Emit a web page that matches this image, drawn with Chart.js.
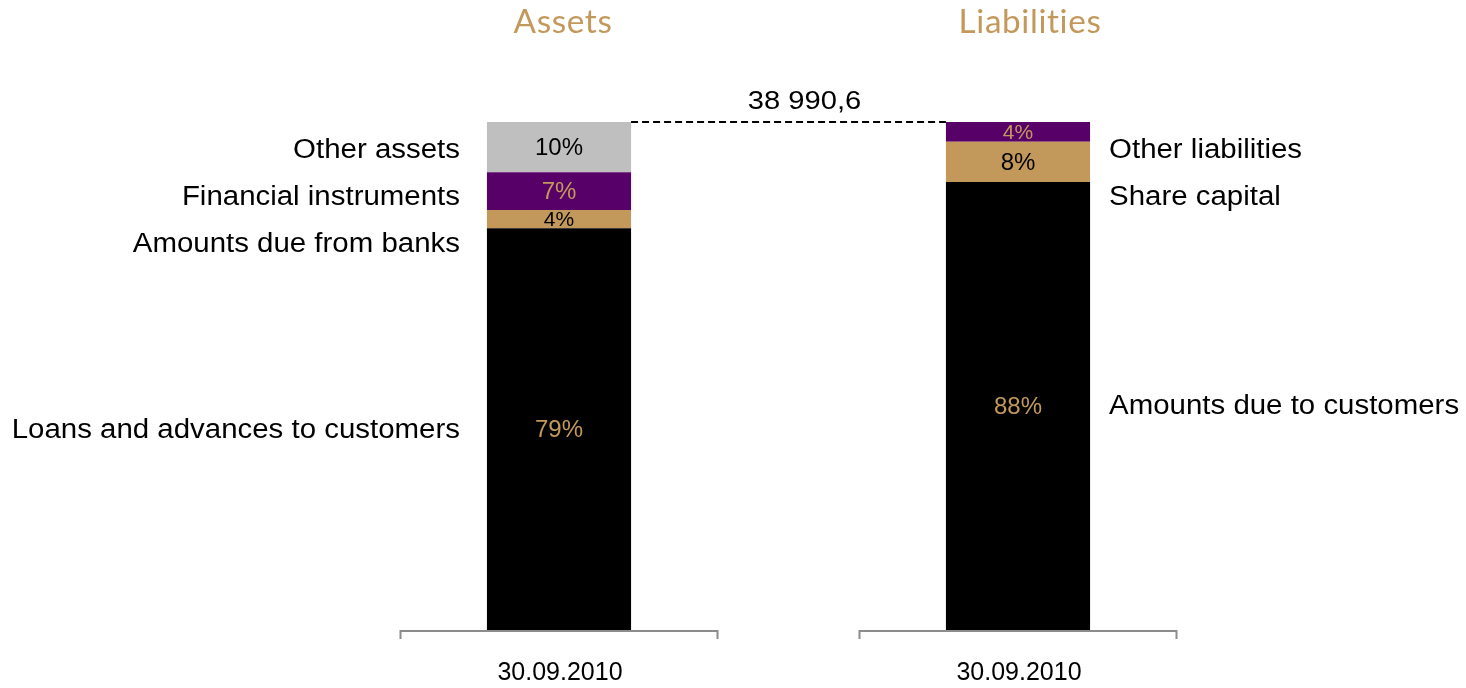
<!DOCTYPE html>
<html>
<head>
<meta charset="utf-8">
<script src="https://cdn.jsdelivr.net/npm/chart.js@4.4.0/dist/chart.umd.min.js"></script>
<style>
  html, body { margin: 0; padding: 0; background: #fff; }
  #wrap { width: 1466px; height: 688px; position: relative; }
</style>
</head>
<body>
<div id="wrap"><canvas id="bs"></canvas></div>
<script>
// balance sheet structure, shares in % (bottom to top)
const panelTitles = ["Assets", "Liabilities"];
const dateLabels = ["30.09.2010", "30.09.2010"];
const totalLabel = "38 990,6";

const assetNames = ["Loans and advances to customers", "Amounts due from banks", "Financial instruments", "Other assets"];
const assetShares = [79.1, 3.6, 7.4, 9.9];

const liabilityNames = ["Amounts due to customers", "Share capital", "Other liabilities"];
const liabilityShares = [88.2, 7.9, 3.9];

const GOLD = "#c3995b";
const PURPLE = "#560068";
const GREY = "#bfbfbf";
const BLACK = "#000000";

const assetColors = [BLACK, GOLD, PURPLE, GREY];
const liabilityColors = [BLACK, GOLD, PURPLE];
// text colour on top of each fill
const textOn = { [BLACK]: GOLD, [GOLD]: BLACK, [PURPLE]: GOLD, [GREY]: BLACK };

const levels = Math.max(assetShares.length, liabilityShares.length);
const datasets = [];
for (let i = 0; i < levels; i++) {
  datasets.push({
    label: "level " + i,
    data: [assetShares[i] ?? null, liabilityShares[i] ?? null],
    backgroundColor: [assetColors[i] || GREY, liabilityColors[i] || GREY],
    borderWidth: 0,
    barPercentage: 0.314,
    categoryPercentage: 1,
    stack: "s",
  });
}

const FONT = "'Liberation Sans', Arial, sans-serif";

// the source picture is a bit wide, so stretch text horizontally
function wideText(ctx, txt, x, y, sx) {
  ctx.save();
  ctx.translate(x, y);
  ctx.scale(sx, 1);
  ctx.fillText(txt, 0, 0);
  ctx.restore();
}

const decorations = {
  id: "decorations",
  afterDatasetsDraw(chart) {
    const { ctx, chartArea, scales } = chart;
    const x = scales.x, y = scales.y;
    ctx.save();

    // percentages inside segments
    chart.data.datasets.forEach((ds, di) => {
      const meta = chart.getDatasetMeta(di);
      meta.data.forEach((bar, j) => {
        const v = ds.data[j];
        if (v == null) return;
        const mid = (bar.y + bar.base) / 2;
        const h = Math.abs(bar.base - bar.y);
        ctx.font = (h < 24 ? 21 : 24) + "px " + FONT;
        ctx.fillStyle = textOn[ds.backgroundColor[j]];
        ctx.textAlign = "center";
        ctx.textBaseline = "middle";
        ctx.fillText(Math.round(v) + "%", bar.x, mid + 1);
      });
    });

    // category names beside the bars, pushed apart when too close
    const placeNames = (col, names, side) => {
      const items = [];
      chart.data.datasets.forEach((ds, di) => {
        if (ds.data[col] == null) return;
        const bar = chart.getDatasetMeta(di).data[col];
        items.push({ name: names[di], y: (bar.y + bar.base) / 2, bar });
      });
      items.sort((a, b) => a.y - b.y);
      let prev = 0;
      items.forEach((it, k) => {
        const yy = Math.max(it.y, k === 0 ? chartArea.top + 28 : prev + 47);
        it.y = yy;
        prev = yy;
      });
      ctx.font = "27px " + FONT;
      ctx.fillStyle = "#000";
      ctx.textBaseline = "middle";
      items.forEach(it => {
        const b = it.bar;
        if (side === "left") {
          ctx.textAlign = "right";
          wideText(ctx, it.name, b.x - b.width / 2 - 27, it.y + 1, 1.09);
        } else {
          ctx.textAlign = "left";
          wideText(ctx, it.name, b.x + b.width / 2 + 19, it.y + 1, 1.09);
        }
      });
    };
    placeNames(0, assetNames, "left");
    placeNames(1, liabilityNames, "right");

    // dashed link between tops of the bars + total
    const topA = chart.getDatasetMeta(assetShares.length - 1).data[0];
    const topL = chart.getDatasetMeta(liabilityShares.length - 1).data[1];
    const yTop = y.getPixelForValue(100);
    ctx.strokeStyle = "#000";
    ctx.lineWidth = 2;
    ctx.setLineDash([7, 4]);
    ctx.beginPath();
    ctx.moveTo(topA.x + topA.width / 2, yTop);
    ctx.lineTo(topL.x - topL.width / 2, yTop);
    ctx.stroke();
    ctx.setLineDash([]);
    ctx.font = "26px " + FONT;
    ctx.fillStyle = "#000";
    ctx.textAlign = "center";
    ctx.textBaseline = "middle";
    wideText(ctx, totalLabel, (topA.x + topL.x) / 2 + 16, yTop - 20, 1.12);

    // broken axis segments with end ticks, date labels, panel titles
    const half = 158.5;
    const base = chartArea.bottom + 1;
    dateLabels.forEach((lab, i) => {
      const cx = x.getPixelForValue(i);
      ctx.strokeStyle = "#8c8c8c";
      ctx.lineWidth = 2;
      ctx.beginPath();
      ctx.moveTo(cx - half, base + 8);
      ctx.lineTo(cx - half, base);
      ctx.lineTo(cx + half, base);
      ctx.lineTo(cx + half, base + 8);
      ctx.stroke();
      ctx.fillStyle = "#000";
      ctx.font = "25px " + FONT;
      ctx.textAlign = "center";
      ctx.textBaseline = "middle";
      ctx.fillText(lab, cx + 1, 673);

      ctx.fillStyle = GOLD;
      ctx.font = "32px Lato, 'Open Sans', sans-serif";
      ctx.letterSpacing = "0.6px";
      wideText(ctx, panelTitles[i], cx + (i === 0 ? 4 : 12), 23, 1.04);
      ctx.letterSpacing = "0px";
    });

    ctx.restore();
  },
};

new Chart(document.getElementById("bs"), {
  type: "bar",
  data: { labels: dateLabels, datasets },
  options: {
    responsive: true,
    maintainAspectRatio: false,
    animation: false,
    layout: { padding: { left: 329.5, right: 218.5, top: 122, bottom: 58 } },
    plugins: { legend: { display: false }, tooltip: { enabled: false } },
    scales: {
      x: { display: false, stacked: true },
      y: { display: false, stacked: true, min: 0, max: 100 },
    },
  },
  plugins: [decorations],
});
</script>
</body>
</html>
